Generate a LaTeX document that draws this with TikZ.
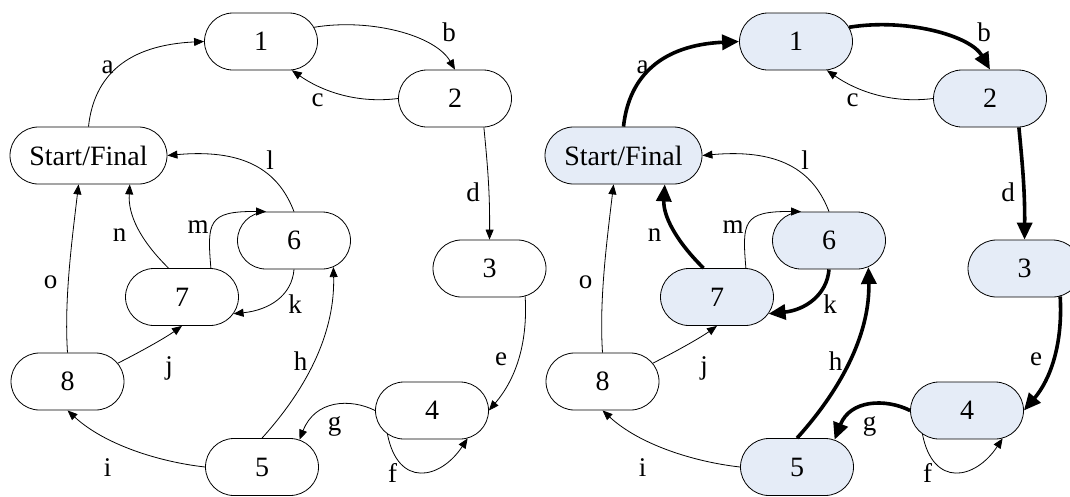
\documentclass[tikz,border=0pt]{standalone}
\usepackage{fontspec}
\setmainfont{Liberation Serif}
\usetikzlibrary{shapes.misc,arrows.meta}
\definecolor{stateblue}{RGB}{229,236,247}
\tikzset{
  state/.style={rounded rectangle, draw, line width=0.8pt, minimum width=113pt,
    minimum height=57pt, inner sep=0pt, font=\fontsize{28}{30}\selectfont},
  wide/.style={minimum width=157pt},
  thinedge/.style={line width=0.8pt, -{Triangle[length=10pt,width=8pt]}},
  boldedge/.style={line width=3.6pt, -{Triangle[length=17pt,width=15pt]}},
  lbl/.style={font=\fontsize{27}{29}\selectfont, inner sep=0pt},
}
% One copy of the state graph; #1 is the name prefix.
% Styles "sel" (node fill) and "hot" (path edges) are set by the caller.
\newcommand\statediagram[1]{%
  \node[state,wide,sel] (#1sf) at (88.5,155.5) {Start/Final};
  \node[state,sel] (#11) at (261,41.5) {1};
  \node[state,sel] (#12) at (455,98.5) {2};
  \node[state,sel] (#13) at (489.5,268.5) {3};
  \node[state,sel] (#14) at (432,410.5) {4};
  \node[state,sel] (#15) at (262,467) {5};
  \node[state,sel] (#16) at (294,240.5) {6};
  \node[state,sel] (#17) at (182,297) {7};
  \node[state] (#18) at (67.5,381.5) {8};
  % transitions
  \draw[hot] (#1sf.north) .. controls (94,75) and (128,45) .. (#11.west);
  \draw[hot] (#11.15) .. controls (370,18) and (435,35) .. (#12.north);
  \draw[thinedge] (#12.west) .. controls (355,104) and (320,90) .. (#11.-43);
  \draw[hot] (#12.-45) .. controls (487,160) and (490,190) .. (#13.north);
  \draw[hot] (#13.-38) .. controls (528,345) and (515,380) .. (#14.east);
  \draw[thinedge] (#14.-152) .. controls (398,488) and (440,480) .. (#14.-38);
  \draw[hot] (#14.west) .. controls (350,398) and (315,400) .. (#15.36);
  \draw[hot] (#15.north) .. controls (310,385) and (335,330) .. (#16.-34);
  \draw[thinedge] (#15.west) .. controls (160,462) and (105,445) .. (#18.south);
  \draw[thinedge] (#18.20) .. controls (140,352) and (165,338) .. (#17.south);
  \draw[hot] (#16.south) .. controls (292,295) and (270,310) .. (#17.-18);
  \draw[thinedge] (#16.north) .. controls (280,175) and (250,148) .. (#1sf.east);
  \draw[thinedge] (#17.45) .. controls (207,222) and (208,211) .. (#16.134);
  \draw[hot] (#17.115) .. controls (140,240) and (128,215) .. (#1sf.-35);
  \draw[thinedge] (#18.north) .. controls (64,300) and (72,240) .. (#1sf.-109);
  % transition labels
  \node[lbl] (#1la) at (107.5,67) {a};
  \node[lbl] (#1lb) at (449,32) {b};
  \node[lbl] (#1lc) at (317.5,100) {c};
  \node[lbl] (#1ld) at (473,192) {d};
  \node[lbl] (#1le) at (501,359) {e};
  \node[lbl] (#1lf) at (392.5,473) {f};
  \node[lbl] (#1lg) at (334.5,426) {g};
  \node[lbl] (#1lh) at (300.5,361) {h};
  \node[lbl] (#1li) at (107.5,468) {i};
  \node[lbl] (#1lj) at (169,368) {j};
  \node[lbl] (#1lk) at (295,304) {k};
  \node[lbl] (#1ll) at (270,160) {l};
  \node[lbl] (#1lm) at (198,227) {m};
  \node[lbl] (#1ln) at (119.5,235) {n};
  \node[lbl] (#1lo) at (50.5,282) {o};
}
\begin{document}
\begin{tikzpicture}[x=1pt,y=-1pt]
  \useasboundingbox (0,0) rectangle (1070,496);
  \begin{scope}[sel/.style={}, hot/.style={thinedge}]
    \statediagram{L}
  \end{scope}
  \begin{scope}[shift={(535,0)}, sel/.style={fill=stateblue}, hot/.style={boldedge}]
    \statediagram{R}
  \end{scope}
\end{tikzpicture}
\end{document}
